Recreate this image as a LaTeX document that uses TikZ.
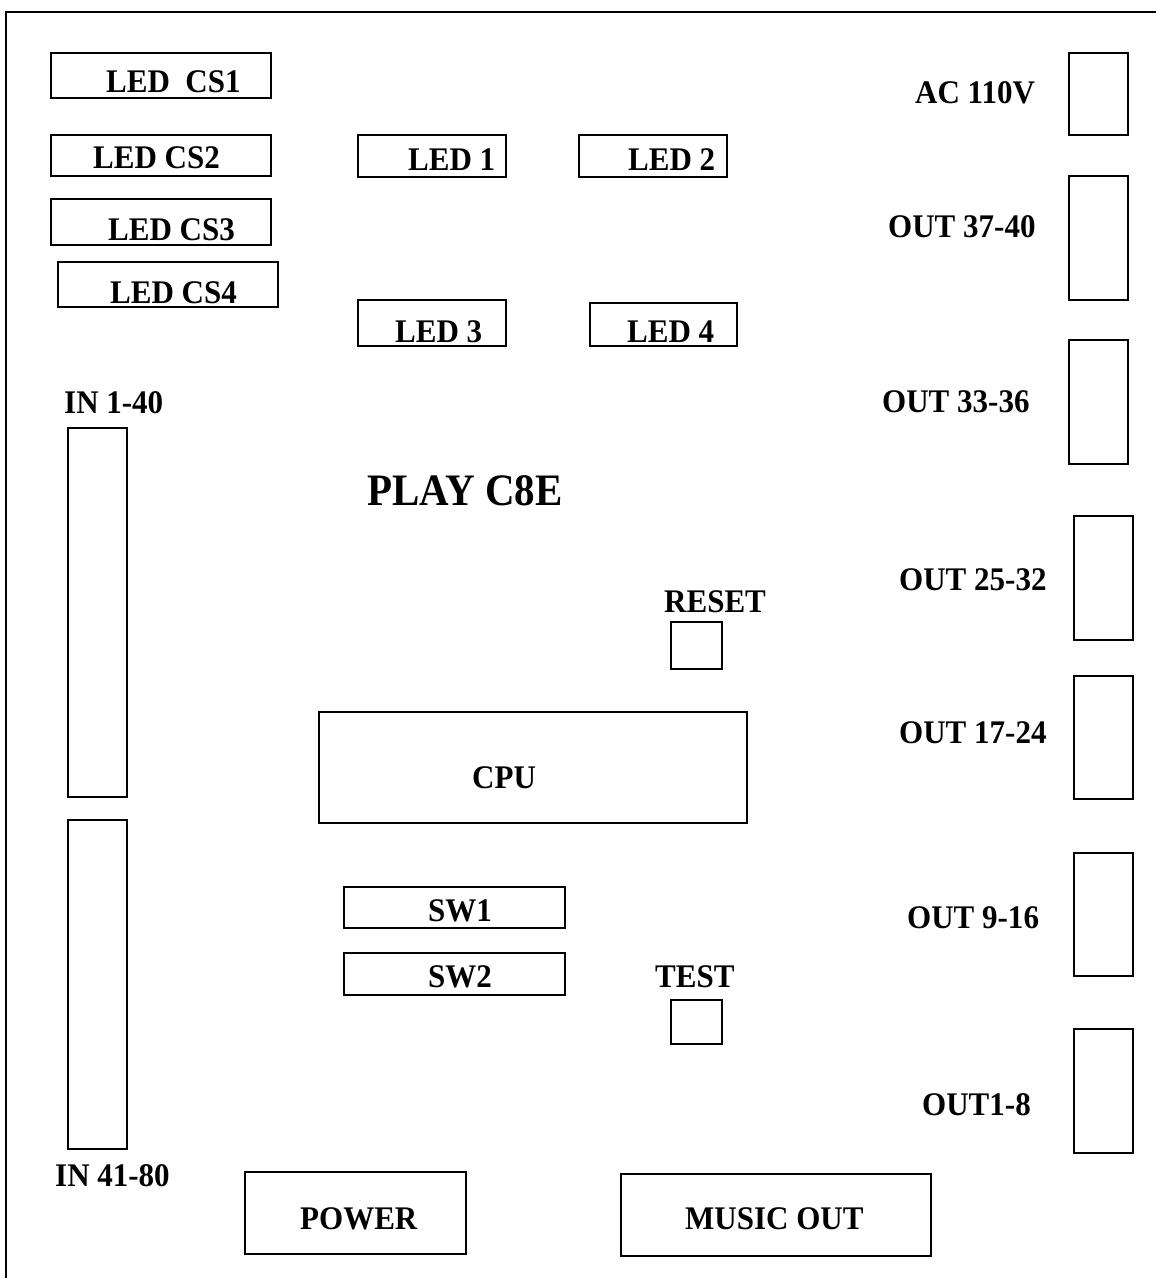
\documentclass[tikz,border=0pt]{standalone}
\usepackage{fontspec}
\setmainfont{Liberation Serif}
\newfontfamily\lblfont[FakeStretch=0.94]{Liberation Serif}
\newfontfamily\ttlfont[FakeStretch=0.91]{Liberation Serif}
\usetikzlibrary{fit}
\tikzset{
  box/.style={draw, line width=1.5pt, inner sep=0pt},
  lbl/.style={anchor=base west, inner sep=0pt, font=\lblfont\fontsize{33}{33}\selectfont\bfseries},
  title/.style={anchor=base west, inner sep=0pt, font=\ttlfont\fontsize{45}{45}\selectfont\bfseries},
  frame/.style={line width=2.2pt}
}
\begin{document}
\begin{tikzpicture}[x=1pt,y=-1pt]
\useasboundingbox (0,0) rectangle (1156,1278);
% outer frame
\coordinate (fr) at (1170,12);
\coordinate (fc) at (6,12);
\coordinate (fb) at (6,1290);
\draw[frame] (fr) -- (fc) -- (fb);
% LED CS
\node[box, fit={(51,53) (271,98)}] (cs1) {};
\node[lbl] (cs1t) at (106,92) {LED\ \ CS1};
\node[box, fit={(51,135) (271,176)}] (cs2) {};
\node[lbl] (cs2t) at (93,168) {LED CS2};
\node[box, fit={(51,199) (271,245)}] (cs3) {};
\node[lbl] (cs3t) at (108,240) {LED CS3};
\node[box, fit={(58,262) (278,307)}] (cs4) {};
\node[lbl] (cs4t) at (110,303) {LED CS4};
% LEDs
\node[box, fit={(358,135) (506,177)}] (led1) {};
\node[lbl] (led1t) at (408,170) {LED 1};
\node[box, fit={(579,135) (727,177)}] (led2) {};
\node[lbl] (led2t) at (628,170) {LED 2};
\node[box, fit={(358,300) (506,346)}] (led3) {};
\node[lbl] (led3t) at (395,342) {LED 3};
\node[box, fit={(590,303) (737,346)}] (led4) {};
\node[lbl] (led4t) at (627,342) {LED 4};
% right connectors
\node[box, fit={(1069,53) (1128,135)}] (ac) {};
\node[lbl] (act) at (915,103) {AC 110V};
\node[box, fit={(1069,176) (1128,300)}] (o3740) {};
\node[lbl] (o3740t) at (888,237) {OUT 37-40};
\node[box, fit={(1069,340) (1128,464)}] (o3336) {};
\node[lbl] (o3336t) at (882,412) {OUT 33-36};
\node[box, fit={(1074,516) (1133,640)}] (o2532) {};
\node[lbl] (o2532t) at (899,590) {OUT 25-32};
\node[box, fit={(1074,676) (1133,799)}] (o1724) {};
\node[lbl] (o1724t) at (899,743) {OUT 17-24};
\node[box, fit={(1074,853) (1133,976)}] (o916) {};
\node[lbl] (o916t) at (907,928) {OUT 9-16};
\node[box, fit={(1074,1029) (1133,1153)}] (o18) {};
\node[lbl] (o18t) at (922,1115) {OUT1-8};
% inputs
\node[lbl] (in140t) at (64,413) {IN 1-40};
\node[box, fit={(68,428) (127,797)}] (in140) {};
\node[box, fit={(68,820) (127,1149)}] (in4180) {};
\node[lbl] (in4180t) at (55,1186) {IN 41-80};
% title
\node[title] (play) at (367,505) {PLAY C8E};
% center
\node[lbl] (resett) at (664,612) {RESET};
\node[box, fit={(671,622) (722,669)}] (reset) {};
\node[box, fit={(319,712) (747,823)}] (cpu) {};
\node[lbl] (cput) at (472,788) {CPU};
\node[box, fit={(344,887) (565,928)}] (sw1) {};
\node[lbl] (sw1t) at (428,921) {SW1};
\node[box, fit={(344,953) (565,995)}] (sw2) {};
\node[lbl] (sw2t) at (428,987) {SW2};
\node[lbl] (testt) at (655,987) {TEST};
\node[box, fit={(671,1000) (722,1044)}] (test) {};
% bottom
\node[box, fit={(245,1172) (466,1254)}] (power) {};
\node[lbl] (powert) at (300,1229) {POWER};
\node[box, fit={(621,1174) (931,1256)}] (music) {};
\node[lbl] (musict) at (685,1229) {MUSIC OUT};
\end{tikzpicture}
\end{document}
